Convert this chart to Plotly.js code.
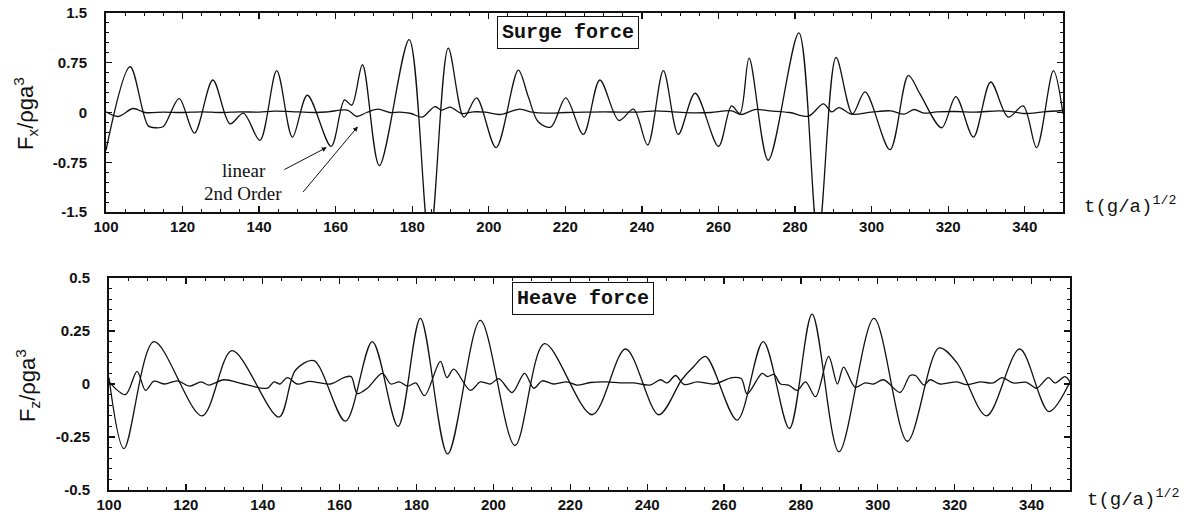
<!DOCTYPE html>
<html>
<head>
<meta charset="utf-8">
<script src="https://cdn.plot.ly/plotly-3.0.1.min.js"></script>
<style>html,body{margin:0;padding:0;background:#fff;}#chart{width:1191px;height:514px;}</style>
</head>
<body>
<div id="chart"></div>
<script>
// ---- Surge force (top panel) ----
const surgeLinearT = [100,106.3,111,113,115,119.1,123.1,127.9,132.4,135.9,140.2,144.6,148.7,152.6,158.8,162.3,164.2,167,171.4,179.2,184.5,189.4,193.5,196.8,201.9,207.7,210.3,212.9,216.2,220.1,224.7,229,234,237.8,241.5,245.6,249.5,253.9,260,263.4,265.6,268,273,281,286,290.7,295,298.3,304.8,309.6,312.6,318.3,322,326.6,331.1,335.7,339.6,343.1,347.5,350];
const surgeLinearV = [-0.57,0.69,-0.2,-0.23,-0.21,0.21,-0.31,0.49,-0.17,-0.01,-0.42,0.63,-0.37,0.26,-0.51,0.19,0.11,0.72,-0.80,1.10,-1.95,0.97,-0.07,0.22,-0.53,0.64,0.24,-0.14,-0.22,0.22,-0.33,0.49,-0.12,0.05,-0.49,0.63,-0.33,0.29,-0.51,0.1,-0.015,0.82,-0.72,1.20,-1.9,0.83,-0.02,0.31,-0.56,0.56,0.285,-0.23,0.24,-0.37,0.46,-0.07,0.1,-0.53,0.63,-0.02];

const surge2ndT = [100,103.2,107.1,110.2,115,120,125,130,135,140,144,150,155,158,163.1,165.5,168.1,171.1,174.1,176.7,179.7,182.6,185.9,187.6,189.9,192.9,196,199,202.9,208.1,211.3,215,220,225,230,235,240,243.5,248,253,258,263.4,265.9,269.5,273.4,278.6,283.5,287.4,289.6,291.5,294.7,300,305,308.5,311.1,313.7,317,322,327,333.2,337,340,345,350];
const surge2ndV = [0.01,-0.06,0.06,0.0,0.005,0.0,0.01,0.0,0.01,0.005,0.02,0.01,0.0,0.01,0.035,-0.06,0.0,0.05,0.0,0.005,-0.015,-0.07,0.09,0.035,0.08,-0.015,0.01,0.005,-0.03,0.05,0.005,-0.01,0.0,0.005,0.01,0.005,0.01,0.025,0.01,-0.005,0.0,0.025,-0.03,0.045,0.025,0.0,-0.055,0.13,0.01,0.075,-0.025,0.005,0.025,-0.025,0.045,-0.01,0.01,0.015,0.005,0.025,0.01,-0.015,0.01,0.03];

// ---- Heave force (bottom panel) ----
const heaveLinearT = [100,103.9,111.7,124.2,132,144.2,148.5,153.3,161.5,168.5,175.2,181,188.1,196.6,205.6,213.3,225.7,234.4,243,249,252,255.2,263.4,270.2,277,282.9,289.9,299,307.7,315.9,320.6,328.3,336.9,344.5,350];
const heaveLinearV = [0.03,-0.305,0.20,-0.15,0.157,-0.156,0.065,0.11,-0.175,0.20,-0.20,0.31,-0.33,0.30,-0.29,0.19,-0.145,0.165,-0.145,0.02,0.08,0.13,-0.17,0.20,-0.21,0.33,-0.32,0.31,-0.27,0.17,0.10,-0.15,0.165,-0.13,0.01];

const heave2ndT = [100,104.3,107.3,109.5,111.7,114.5,117.8,121,124,126,129.9,135,141.2,142.9,144.5,146.4,149,152,157.6,161.1,163,164.6,167.2,171.1,173.3,175.5,177.7,179.8,182.1,186.2,187.9,189.7,194,196.6,199.2,201.4,204.9,208.1,210.5,212.7,215.7,219.1,221.7,225.2,229.5,232.9,236.4,240.7,243.5,245.2,247.4,249.6,253,257.4,262.1,264.5,266,269.9,271.3,273,274.7,276.8,279,281.2,283.8,287.2,289.5,291.1,294.1,296.7,298.9,301.5,305.8,308.4,309.8,312,313.6,316.2,320.6,323.1,326.6,330,332.3,335.2,338.7,341.3,344.4,346.1,348.7,350];
const heave2ndV = [0.01,-0.05,0.06,-0.03,0.013,0.0,0.015,-0.01,0.01,-0.005,0.02,0.0,-0.02,0.01,0.0,0.03,0.0,0.012,0.0,0.03,0.035,-0.045,-0.02,0.05,0.0,0.01,-0.01,0.005,-0.055,0.107,0.03,0.07,-0.03,0.01,0.0,0.025,-0.04,0.05,-0.02,0.015,0.0,0.01,-0.005,0.007,0.01,0.005,0.005,-0.005,0.02,0.005,0.04,-0.002,0.01,0.0,0.03,0.025,-0.047,0.05,0.035,0.045,0.0,-0.005,-0.03,0.01,-0.06,0.13,0.0,0.08,-0.015,0.005,0.0,0.02,-0.04,0.04,0.04,-0.005,0.02,0.0,0.01,-0.003,0.01,0.005,0.03,0.005,0.008,-0.02,0.03,0.005,0.035,0.01];

// ---- tick labels ----
const xTickVals = [100,120,140,160,180,200,220,240,260,280,300,320,340];
const xTickText = ["100","120","140","160","180","200","220","240","260","280","300","320","340"];
const surgeTickVals = [-1.5,-0.75,0,0.75,1.5];
const surgeTickText = ["-1.5","-0.75","0","0.75","1.5"];
const heaveTickVals = [-0.5,-0.25,0,0.25,0.5];
const heaveTickText = ["-0.5","-0.25","0","0.25","0.5"];

const W = 1191, H = 514;
const lineStyle = {color:'#111', width:1.3, shape:'spline', smoothing:0.9};

const traces = [
  {x:surgeLinearT, y:surgeLinearV, xaxis:'x', yaxis:'y', mode:'lines', line:lineStyle, name:'linear'},
  {x:surge2ndT, y:surge2ndV, xaxis:'x', yaxis:'y', mode:'lines', line:lineStyle, name:'2nd Order'},
  {x:heaveLinearT, y:heaveLinearV, xaxis:'x2', yaxis:'y2', mode:'lines', line:lineStyle, name:'linear'},
  {x:heave2ndT, y:heave2ndV, xaxis:'x2', yaxis:'y2', mode:'lines', line:lineStyle, name:'2nd Order'}
];

const tickFont = {family:'Liberation Sans, Arial, sans-serif', size:15, color:'#111', weight:'bold'};
function xAxis(dom, anchor){
  return {domain:dom, anchor:anchor, range:[100,350], tickvals:xTickVals, ticktext:xTickText,
    ticks:'inside', ticklen:6, tickwidth:1.3, tickcolor:'#111', showline:true, linecolor:'#111', linewidth:2,
    mirror:'allticks', showgrid:false, zeroline:false, tickfont:tickFont, automargin:false,
    minor:{dtick:5, ticks:'inside', ticklen:3, tickcolor:'#111', tickwidth:1, showgrid:false}};
}
function yAxis(dom, anchor, range, vals, text, minorD){
  return {domain:dom, anchor:anchor, range:range, tickvals:vals, ticktext:text,
    ticks:'inside', ticklen:6, tickwidth:1.3, tickcolor:'#111', showline:true, linecolor:'#111', linewidth:2,
    mirror:'allticks', showgrid:false, zeroline:false, tickfont:tickFont, automargin:false, ticklabelstandoff:14,
    minor:{dtick:minorD, ticks:'inside', ticklen:3, tickcolor:'#111', tickwidth:1, showgrid:false}};
}
function note(x, y, text, font, extra){
  return Object.assign({xref:'paper', yref:'paper', x:x/W, y:1-y/H, xanchor:'center', yanchor:'middle',
    text:text, showarrow:false, font:font}, extra||{});
}
const monoBox = {family:'Liberation Mono, Courier New, monospace', size:20, color:'#111'};
const boxStyle = {bordercolor:'#111', borderwidth:1, borderpad:4, bgcolor:'#fff'};
const yTitleFont = {family:'Liberation Sans, Arial, sans-serif', size:22, color:'#111'};
const xTitleFont = {family:'Liberation Mono, Courier New, monospace', size:19, color:'#111'};
const serifFont = {family:'Liberation Serif, Times New Roman, serif', size:19, color:'#111'};

const layout = {
  width:W, height:H, margin:{l:0,r:0,t:0,b:0}, paper_bgcolor:'#fff', plot_bgcolor:'#fff', showlegend:false,
  xaxis: xAxis([106/W, 1063/W], 'y'),
  yaxis: yAxis([1-212/H, 1-13/H], 'x', [-1.5,1.5], surgeTickVals, surgeTickText, 0.15),
  xaxis2: xAxis([109/W, 1070/W], 'y2'),
  yaxis2: yAxis([1-490/H, 1-278/H], 'x2', [-0.5,0.5], heaveTickVals, heaveTickText, 0.05),
  annotations: [
    note(568, 32.8, '<b>Surge force</b>', monoBox, boxStyle),
    note(583, 298.7, '<b>Heave force</b>', monoBox, boxStyle),
    note(25, 114, 'F<sub>x</sub>/ρga<sup>3</sup>', yTitleFont, {textangle:-90}),
    note(27, 386, 'F<sub>z</sub>/ρga<sup>3</sup>', yTitleFont, {textangle:-90}),
    note(1130, 205, 't(g/a)<sup>1/2</sup>', xTitleFont),
    note(1133, 498, 't(g/a)<sup>1/2</sup>', xTitleFont),
    note(244, 171, 'linear', serifFont),
    note(243, 193, '2nd Order', serifFont),
    {xref:'x', yref:'y', x:157.7, y:-0.525, text:'', showarrow:true, ax:-44, ay:23,
     arrowhead:2, arrowsize:1, arrowwidth:1, arrowcolor:'#111'},
    {xref:'x', yref:'y', x:165.8, y:-0.21, text:'', showarrow:true, ax:-56, ay:67,
     arrowhead:2, arrowsize:1, arrowwidth:1, arrowcolor:'#111'}
  ]
};

Plotly.newPlot('chart', traces, layout, {staticPlot:true, displayModeBar:false});
</script>
</body>
</html>
